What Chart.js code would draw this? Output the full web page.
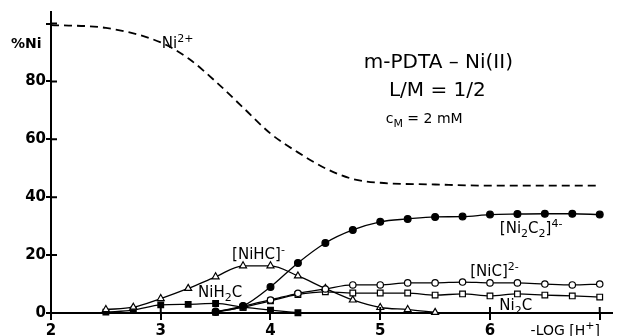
<!DOCTYPE html>
<html>
<head>
<meta charset="utf-8">
<script src="https://cdn.jsdelivr.net/npm/chart.js@4/dist/chart.umd.min.js"></script>
<style>
    body { margin: 0; background: #fff; }
</style>
</head>
<body>
<canvas id="species-chart" width="617" height="336"></canvas>
<script>
// -log[H+] values and % Ni for each species
const ph_free = [2, 2.5, 3, 3.25, 3.5, 3.75, 4, 4.25, 4.5, 4.75, 5, 5.5, 6, 6.5, 7];
const ni_free = [99.5, 98.5, 93.5, 88, 80, 71, 62, 55.5, 50, 46.3, 45, 44.4, 44, 44, 44];

const ph_nihc = [2.5, 2.75, 3, 3.25, 3.5, 3.75, 4, 4.25, 4.5, 4.75, 5, 5.25, 5.5];
const nihc = [1.2, 2, 5, 8.5, 12.5, 16.3, 16.3, 12.8, 8.5, 4.5, 1.9, 1.2, 0.2];

const ph_nih2c = [2.5, 2.75, 3, 3.25, 3.5, 3.75, 4, 4.25];
const nih2c = [0.3, 1, 2.8, 3, 3.3, 2, 1, 0.1];

const ph_high = [3.5, 3.75, 4, 4.25, 4.5, 4.75, 5, 5.25, 5.5, 5.75, 6, 6.25, 6.5, 6.75, 7];
const ni2c2 = [0.5, 2.4, 9, 17.3, 24.2, 28.7, 31.5, 32.5, 33.2, 33.3, 34, 34.2, 34.3, 34.3, 34];
const nic = [0.3, 2.4, 4.5, 6.8, 8.3, 9.7, 9.7, 10.4, 10.4, 10.7, 10.4, 10.4, 10, 9.7, 10];
const ni2c = [0.2, 2, 4.2, 6.4, 7.3, 6.9, 6.9, 6.9, 6.2, 6.6, 5.9, 6.6, 6.2, 5.9, 5.5];

const x_ticks = [2, 3, 4, 5, 6, 7];
const x_tick_labels = ["2", "3", "4", "5", "6", ""];
const y_ticks = [0, 20, 40, 60, 80, 100];
const y_tick_labels = ["0", "20", "40", "60", "80", ""];

const FONT = "'DejaVu Sans'";

// species labels, placed in data coordinates
const notes = [
    { parts: [["Ni"], ["2+", "sup"]], x: 3.01, y: 91.6, size: 15 },
    { parts: [["m-PDTA \u2013 Ni(II)"]], x: 5.53, y: 84.7, size: 20, align: "center" },
    { parts: [["L/M = 1/2"]], x: 5.52, y: 75, size: 20, align: "center" },
    { parts: [["c"], ["M", "sub"], [" = 2 mM"]], x: 5.05, y: 65.5, size: 14 },
    { parts: [["[Ni"], ["2", "sub"], ["C"], ["2", "sub"], ["]"], ["4-", "sup"]], x: 6.09, y: 27.6, size: 15 },
    { parts: [["[NiC]"], ["2-", "sup"]], x: 5.82, y: 12.8, size: 15 },
    { parts: [["Ni"], ["2", "sub"], ["C"]], x: 6.085, y: 1.2, size: 15 },
    { parts: [["[NiHC]"], ["-", "sup"]], x: 3.65, y: 18.7, size: 15 },
    { parts: [["NiH"], ["2", "sub"], ["C"]], x: 3.34, y: 5.5, size: 15 }
];

function points(xs, ys) {
    return xs.map((x, i) => ({ x: x, y: ys[i] }));
}

function draw_rich(ctx, parts, x, y, size, weight, align) {
    const small = Math.round(size * 0.76);
    let width = 0;
    parts.forEach(p => {
        ctx.font = weight + " " + (p[1] ? small : size) + "px " + FONT;
        width += ctx.measureText(p[0]).width;
    });
    let cx = align === "center" ? x - width / 2 : x;
    parts.forEach(p => {
        ctx.font = weight + " " + (p[1] ? small : size) + "px " + FONT;
        let dy = 0;
        if (p[1] === "sub") dy = size * 0.28;
        if (p[1] === "sup") dy = -size * 0.42;
        ctx.fillText(p[0], cx, y + dy);
        cx += ctx.measureText(p[0]).width;
    });
}

const decorations = {
    id: "decorations",
    afterDraw(chart) {
        const ctx = chart.ctx,
            area = chart.chartArea,
            xs = chart.scales.x,
            ys = chart.scales.y;
        ctx.save();
        ctx.strokeStyle = "#000";
        ctx.lineWidth = 2;
        ctx.beginPath();
        x_ticks.forEach(v => {
            const px = xs.getPixelForValue(v);
            ctx.moveTo(px, area.bottom - 6);
            ctx.lineTo(px, area.bottom);
        });
        y_ticks.forEach(v => {
            const py = ys.getPixelForValue(v);
            ctx.moveTo(area.left, py);
            ctx.lineTo(area.left + 6, py);
        });
        ctx.stroke();

        ctx.fillStyle = "#000";
        ctx.textBaseline = "alphabetic";
        notes.forEach(n => {
            draw_rich(ctx, n.parts, xs.getPixelForValue(n.x), ys.getPixelForValue(n.y), n.size, "normal", n.align);
        });
        draw_rich(ctx, [["%Ni"]], area.left - 40, ys.getPixelForValue(91.6), 14, "bold");
        draw_rich(ctx, [["-LOG [H"], ["+", "sup"], ["]"]], xs.getPixelForValue(6.37), area.bottom + 22, 14, "normal");
        ctx.restore();
    }
};

function fixed_ticks(values) {
    return function(scale) {
        scale.ticks = values.map(v => ({ value: v }));
    };
}

function no_padding(width, height) {
    return function(scale) {
        if (width) scale.width = width;
        if (height) scale.height = height;
        scale.paddingTop = 0;
        scale.paddingBottom = 0;
        scale.paddingLeft = 0;
        scale.paddingRight = 0;
    };
}

const line_style = {
    borderColor: "#000",
    backgroundColor: "#000",
    pointBorderColor: "#000",
    borderWidth: 1.3,
    pointBorderWidth: 1.2,
    cubicInterpolationMode: "monotone",
    clip: false
};

new Chart(document.getElementById("species-chart"), {
    type: "line",
    data: {
        datasets: [
            Object.assign({}, line_style, {
                label: "Ni2+",
                data: points(ph_free, ni_free),
                pointRadius: 0,
                borderWidth: 1.8,
                borderDash: [8, 5]
            }),
            Object.assign({}, line_style, {
                label: "[Ni2C2]4-",
                data: points(ph_high, ni2c2),
                pointStyle: "circle",
                pointRadius: 3.4,
                pointBackgroundColor: "#000"
            }),
            Object.assign({}, line_style, {
                label: "[NiC]2-",
                data: points(ph_high, nic),
                pointStyle: "circle",
                pointRadius: 3.2,
                pointBackgroundColor: "#fff"
            }),
            Object.assign({}, line_style, {
                label: "Ni2C",
                data: points(ph_high, ni2c),
                pointStyle: "rect",
                pointRadius: 4,
                pointBackgroundColor: "#fff"
            }),
            Object.assign({}, line_style, {
                label: "[NiHC]-",
                data: points(ph_nihc, nihc),
                pointStyle: "triangle",
                pointRadius: 4,
                pointBackgroundColor: "#fff"
            }),
            Object.assign({}, line_style, {
                label: "NiH2C",
                data: points(ph_nih2c, nih2c),
                pointStyle: "rect",
                pointRadius: 4,
                pointBackgroundColor: "#000"
            })
        ]
    },
    options: {
        responsive: false,
        animation: false,
        events: [],
        layout: { padding: { top: 12, right: 2, left: 0, bottom: 0 } },
        plugins: {
            legend: { display: false },
            tooltip: { enabled: false }
        },
        scales: {
            x: {
                type: "linear",
                min: 2,
                max: 7.11,
                afterBuildTicks: fixed_ticks(x_ticks),
                afterFit: no_padding(0, 23),
                border: { display: true, color: "#000", width: 2 },
                grid: { drawOnChartArea: false, color: "#000", lineWidth: 2, tickLength: 7 },
                ticks: {
                    padding: 2,
                    color: "#000",
                    maxRotation: 0,
                    autoSkip: false,
                    font: { family: FONT, size: 15, weight: "bold" },
                    callback: (value, index) => x_tick_labels[index]
                }
            },
            y: {
                min: 0,
                max: 104,
                afterBuildTicks: fixed_ticks(y_ticks),
                afterFit: no_padding(51, 0),
                border: { display: true, color: "#000", width: 2 },
                grid: { drawOnChartArea: false, color: "#000", lineWidth: 2, tickLength: 5 },
                ticks: {
                    padding: 0,
                    color: "#000",
                    autoSkip: false,
                    font: { family: FONT, size: 15, weight: "bold" },
                    callback: (value, index) => y_tick_labels[index]
                }
            }
        }
    },
    plugins: [decorations]
});
</script>
</body>
</html>
